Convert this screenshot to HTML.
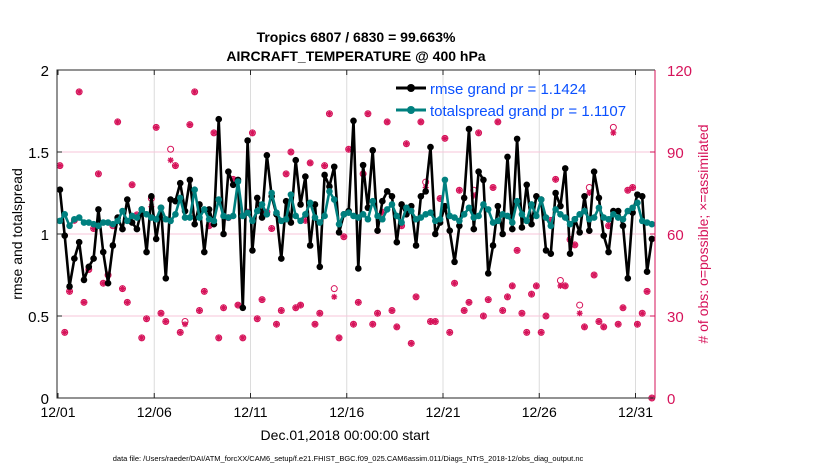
<!DOCTYPE html>
<html><head><meta charset="utf-8"><style>
html,body{margin:0;padding:0;background:#fff;}
svg{display:block;font-family:"Liberation Sans",sans-serif;}
</style></head><body>
<svg id="chart" width="830" height="470" viewBox="0 0 830 470" xmlns="http://www.w3.org/2000/svg">
<rect width="830" height="470" fill="#fff"/>
<g id="grid"></g>
<g id="obs"></g>
<g id="series"></g>
<g id="axes"></g>
<text x="356" y="42" text-anchor="middle" font-size="14" font-weight="bold">Tropics 6807 / 6830 = 99.663%</text>
<text x="356" y="61" text-anchor="middle" font-size="14" font-weight="bold">AIRCRAFT_TEMPERATURE @ 400 hPa</text>
<text transform="translate(22,234) rotate(-90)" text-anchor="middle" font-size="14">rmse and totalspread</text>
<text transform="translate(708,234) rotate(-90)" text-anchor="middle" font-size="14" fill="#d6135a"># of obs: o=possible; ×=assimilated</text>
<text x="345" y="440" text-anchor="middle" font-size="14">Dec.01,2018 00:00:00 start</text>
<text x="348" y="461" text-anchor="middle" font-size="7.5">data file: /Users/raeder/DAI/ATM_forcXX/CAM6_setup/f.e21.FHIST_BGC.f09_025.CAM6assim.011/Diags_NTrS_2018-12/obs_diag_output.nc</text>
<g>
<line x1="396" y1="88" x2="426" y2="88" stroke="#000" stroke-width="3"/>
<circle cx="411" cy="88" r="4" fill="#000"/>
<text x="430" y="94" font-size="15" fill="#0a50ff">rmse grand pr = 1.1424</text>
<line x1="396" y1="110" x2="426" y2="110" stroke="#00807f" stroke-width="3"/>
<circle cx="411" cy="110" r="4" fill="#00807f"/>
<text x="430" y="116" font-size="15" fill="#0a50ff">totalspread grand pr = 1.1107</text>
</g>
</svg>
<script>
const rmse=[1.27,0.99,0.68,0.85,0.95,0.72,0.80,0.85,1.15,0.89,0.70,0.93,1.10,1.03,1.21,1.07,1.03,1.15,0.89,1.23,0.97,1.16,0.73,1.21,1.20,1.31,1.14,1.33,1.06,1.18,0.89,
1.15,1.06,1.70,1.00,1.38,1.30,1.33,0.55,1.57,0.90,1.22,1.10,1.48,1.23,1.12,0.85,1.20,1.07,1.45,1.18,1.35,0.93,1.18,0.80,1.36,1.29,1.41,1.01,1.12,1.14,1.69,0.79,1.42,
1.16,1.51,1.02,1.20,1.26,1.23,0.95,1.18,1.12,1.17,0.93,1.23,1.26,1.53,1.00,1.07,1.17,1.02,0.83,1.05,1.22,1.64,1.03,1.38,1.33,0.76,0.93,1.17,1.00,1.47,
1.03,1.58,1.04,1.30,1.06,1.23,1.21,0.90,0.88,1.25,1.17,1.40,0.88,1.09,1.01,1.23,1.02,1.38,1.22,0.99,0.89,1.14,1.14,1.05,0.73,1.13,1.24,1.23,0.77,0.97];
const spread=[1.08,1.12,1.05,1.09,1.10,1.07,1.07,1.06,1.05,1.07,1.07,1.06,1.08,1.14,1.08,1.11,1.10,1.15,1.12,1.10,1.09,1.16,1.09,1.08,1.12,1.22,1.10,1.10,1.27,1.10,1.15,
1.09,1.08,1.21,1.11,1.10,1.11,1.32,1.11,1.13,1.08,1.14,1.18,1.12,1.25,1.13,1.08,1.09,1.24,1.11,1.08,1.12,1.19,1.10,1.07,1.11,1.26,1.21,1.06,1.12,1.13,1.11,1.10,
1.12,1.09,1.20,1.11,1.09,1.15,1.18,1.11,1.07,1.16,1.14,1.09,1.10,1.12,1.13,1.08,1.09,1.33,1.11,1.10,1.08,1.12,1.16,1.10,1.11,1.18,1.15,1.07,1.08,1.12,
1.11,1.07,1.20,1.12,1.08,1.18,1.11,1.21,1.10,1.05,1.15,1.12,1.10,1.06,1.09,1.12,1.14,1.09,1.10,1.16,1.10,1.09,1.12,1.10,1.09,1.14,1.16,1.19,1.08,1.07,1.06];
const possible=[85,24,39,65,112,35,47,62,82,42,45,63,101,40,35,78,67,22,29,73,99,31,28,91,85,24,28,100,112,32,39,
63,97,22,33,66,80,34,22,68,97,29,36,68,62,27,32,82,90,33,34,65,86,27,31,85,104,40,22,59,91,27,35,
82,104,27,31,68,101,32,26,63,93,20,37,101,79,28,28,73,95,24,42,76,32,35,76,97,30,36,77,101,32,
37,41,54,31,24,38,41,24,30,65,80,43,41,58,56,34,26,77,45,28,26,63,99,27,33,76,77,27,31,39,0];
const assimilated=[85,24,39,65,112,35,47,62,82,42,45,63,101,40,35,78,67,22,29,70,99,31,28,87,85,24,27,100,112,32,39,
63,97,22,33,66,80,34,22,68,97,29,36,68,62,27,32,82,90,33,34,65,86,27,31,85,104,37,22,59,91,27,35,
82,104,27,31,68,101,32,26,63,93,20,37,101,77,28,28,73,95,24,42,76,32,35,74,97,30,36,77,101,32,
37,41,54,31,24,38,41,24,30,65,80,41,41,58,56,31,26,75,45,28,26,63,97,27,33,76,77,27,31,39,0];
const xTickLabels=["12/01","12/06","12/11","12/16","12/21","12/26","12/31"];
const xTickDays=[0,5,10,15,20,25,30];
const yTicks=[0,0.5,1,1.5,2];
const y2Ticks=[0,30,60,90,120];

const L=57,R=655,T=70,B=398,day0=58,pxDay=19.25;
const xs=d=>day0+d*pxDay;
const ys=v=>B-(v/2)*(B-T);
const y2=v=>B-(v/120)*(B-T);
const tOf=k=>0.1+0.25*k;
const NS="http://www.w3.org/2000/svg";
function mk(tag,attrs,parent){const e=document.createElementNS(NS,tag);for(const k in attrs)e.setAttribute(k,attrs[k]);parent.appendChild(e);return e;}
const grid=document.getElementById('grid'),obs=document.getElementById('obs'),ser=document.getElementById('series'),ax=document.getElementById('axes');
xTickDays.forEach((d,i)=>{
  if(i>0){const g=mk('line',{x1:xs(d),x2:xs(d),y1:T,y2:B,stroke:'#dcdcdc','stroke-width':1},grid);
  
  }
  const t=mk('line',{x1:xs(d),x2:xs(d),y1:B,y2:B-5,stroke:'#262626'},ax);
  
  
  const tt=mk('line',{x1:xs(d),x2:xs(d),y1:T,y2:T+5,stroke:'#262626'},ax);
  
  
  const lb=mk('text',{x:xs(d),y:B+19,'text-anchor':'middle','font-size':14},ax);lb.textContent=xTickLabels[i];
  
  
});
y2Ticks.forEach(v=>{
  if(v>0&&v<120){const g=mk('line',{x1:L,x2:R,y1:y2(v),y2:y2(v),stroke:'#f7c6da','stroke-width':1},grid);
  
  }
  const t=mk('line',{x1:R,x2:R-5,y1:y2(v),y2:y2(v),stroke:'#d6135a'},ax);
  
  
  const lb=mk('text',{x:R+12,y:y2(v)+6,'font-size':15,fill:'#d6135a'},ax);lb.textContent=v;
  
  
});
yTicks.forEach(v=>{
  const t=mk('line',{x1:L,x2:L+5,y1:ys(v),y2:ys(v),stroke:'#262626'},ax);
  
  
  const lb=mk('text',{x:L-8,y:ys(v)+6,'text-anchor':'end','font-size':15},ax);lb.textContent=String(v);
  
  
});
const fr=mk('path',{d:`M${R},${T}H${L}V${B}H${R}`,fill:'none',stroke:'#262626','stroke-width':1},ax);


const ra=mk('line',{x1:R,x2:R,y1:T,y2:B,stroke:'#d6135a','stroke-width':1},ax);


// obs markers
possible.forEach((v,k)=>{
  const c=mk('circle',{cx:xs(tOf(k)),cy:y2(v),r:3,fill:'none',stroke:'#d6135a','stroke-width':1},obs);
  
  
});
assimilated.forEach((v,k)=>{
  const x=xs(tOf(k)),y=y2(v);
  const p=mk('path',{d:`M${x-3},${y}H${x+3}M${x},${y-3}V${y+3}M${x-2.2},${y-2.2}L${x+2.2},${y+2.2}M${x-2.2},${y+2.2}L${x+2.2},${y-2.2}`,stroke:'#d6135a','stroke-width':1.3},obs);
  
  
});
function series(vals,color,name,r){
  const pts=vals.map((v,k)=>xs(tOf(k)).toFixed(1)+','+ys(v).toFixed(1)).join(' ');
  const pl=mk('polyline',{points:pts,fill:'none',stroke:color,'stroke-width':2.6,'stroke-linejoin':'round'},ser);
  
  
  vals.forEach((v,k)=>{
    const c=mk('circle',{cx:xs(tOf(k)),cy:ys(v),r:r,fill:color},ser);
    
    
  });
}
series(rmse,'#000','rmse',3.3);
series(spread,'#00807f','totalspread',3.3);
</script>
</body></html>
